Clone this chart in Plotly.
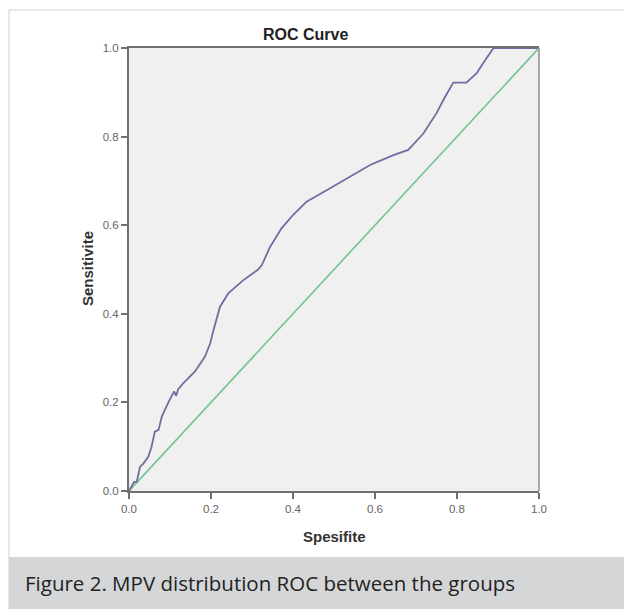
import plotly.graph_objects as go

# ROC curve points (1 - specificity, sensitivity)
fpr = [0, 0.006, 0.012, 0.019, 0.027, 0.035, 0.047, 0.055, 0.063, 0.072, 0.08,
       0.096, 0.104, 0.110, 0.115, 0.12, 0.132, 0.161, 0.185, 0.198, 0.206,
       0.222, 0.242, 0.279, 0.315, 0.324, 0.344, 0.372, 0.40, 0.433, 0.482,
       0.539, 0.588, 0.645, 0.681, 0.718, 0.75, 0.771, 0.791, 0.823, 0.848,
       0.864, 0.889, 1.0]
tpr = [0, 0.01, 0.02, 0.021, 0.055, 0.062, 0.077, 0.10, 0.134, 0.138, 0.168,
       0.20, 0.213, 0.225, 0.215, 0.23, 0.243, 0.27, 0.303, 0.333, 0.363,
       0.416, 0.446, 0.476, 0.50, 0.51, 0.551, 0.593, 0.623, 0.653, 0.679,
       0.709, 0.736, 0.758, 0.77, 0.807, 0.853, 0.89, 0.922, 0.922, 0.943,
       0.966, 1.0, 1.0]

# Reference (chance) line
ref_x = [0, 1]
ref_y = [0, 1]

tick_vals = [0.0, 0.2, 0.4, 0.6, 0.8, 1.0]
tick_text = ["0.0", "0.2", "0.4", "0.6", "0.8", "1.0"]

W, H = 624, 609
L, R, T, B = 129, 539, 48, 491
pw, ph = R - L, B - T


def px(xp):
    return (xp - L) / pw


def py(yp):
    return (B - yp) / ph


fig = go.Figure()
fig.add_trace(go.Scatter(x=ref_x, y=ref_y, mode="lines",
                         line=dict(color="#72c48e", width=1.6),
                         hoverinfo="skip", showlegend=False))
fig.add_trace(go.Scatter(x=fpr, y=tpr, mode="lines",
                         line=dict(color="#6e6ea0", width=1.8),
                         showlegend=False))

axis_common = dict(range=[0, 1], tickvals=tick_vals, ticktext=tick_text,
                   showgrid=False, zeroline=False, showline=True,
                   linecolor="#6f6f6f", linewidth=2, ticks="outside",
                   ticklen=6, tickwidth=1.5, tickcolor="#6f6f6f",
                   tickfont=dict(family="Liberation Sans, Arial", size=11.5,
                                 color="#666666"))

fig.update_xaxes(**axis_common, mirror=True)
fig.update_yaxes(**axis_common)

shapes = [
    # right border of the plot area, lighter than the others
    dict(type="line", xref="x domain", yref="y domain", x0=1, x1=1, y0=0, y1=1,
         line=dict(color="#a8a8a8", width=2)),
    # outer frame (left and top edges)
    dict(type="line", xref="paper", yref="paper", x0=px(9), x1=px(9),
         y0=py(10), y1=py(H), line=dict(color="#d0d0d0", width=1)),
    dict(type="line", xref="paper", yref="paper", x0=px(9), x1=px(W),
         y0=py(10), y1=py(10), line=dict(color="#d0d0d0", width=1)),
    # caption band
    dict(type="rect", xref="paper", yref="paper", x0=px(9), x1=px(W),
         y0=py(557), y1=py(H), fillcolor="#d5d6d8", line=dict(width=0),
         layer="below"),
]

annotations = [
    dict(text="<b>ROC Curve</b>", x=px(305), y=py(34), xref="paper",
         yref="paper", showarrow=False, xanchor="center", yanchor="middle",
         font=dict(family="Liberation Sans, Arial", size=16, color="#222222")),
    dict(text="<b>Spesifite</b>", x=px(334), y=py(536), xref="paper",
         yref="paper", showarrow=False, xanchor="center", yanchor="middle",
         font=dict(family="Liberation Sans, Arial", size=15, color="#333333")),
    dict(text="<b>Sensitivite</b>", x=px(87), y=py(269), xref="paper",
         yref="paper", showarrow=False, xanchor="center", yanchor="middle",
         textangle=-90,
         font=dict(family="Liberation Sans, Arial", size=15, color="#333333")),
    dict(text="Figure 2. MPV distribution ROC between the groups",
         x=px(23), y=py(583), xref="paper", yref="paper", showarrow=False,
         xanchor="left", yanchor="middle",
         font=dict(family="Open Sans", size=20.5, color="#222222")),
]

fig.update_layout(
    width=W, height=H,
    margin=dict(l=L, r=W - R, t=T, b=H - B),
    paper_bgcolor="white",
    plot_bgcolor="#f0f0f0",
    shapes=shapes,
    annotations=annotations,
)

fig.write_html("out.html")
